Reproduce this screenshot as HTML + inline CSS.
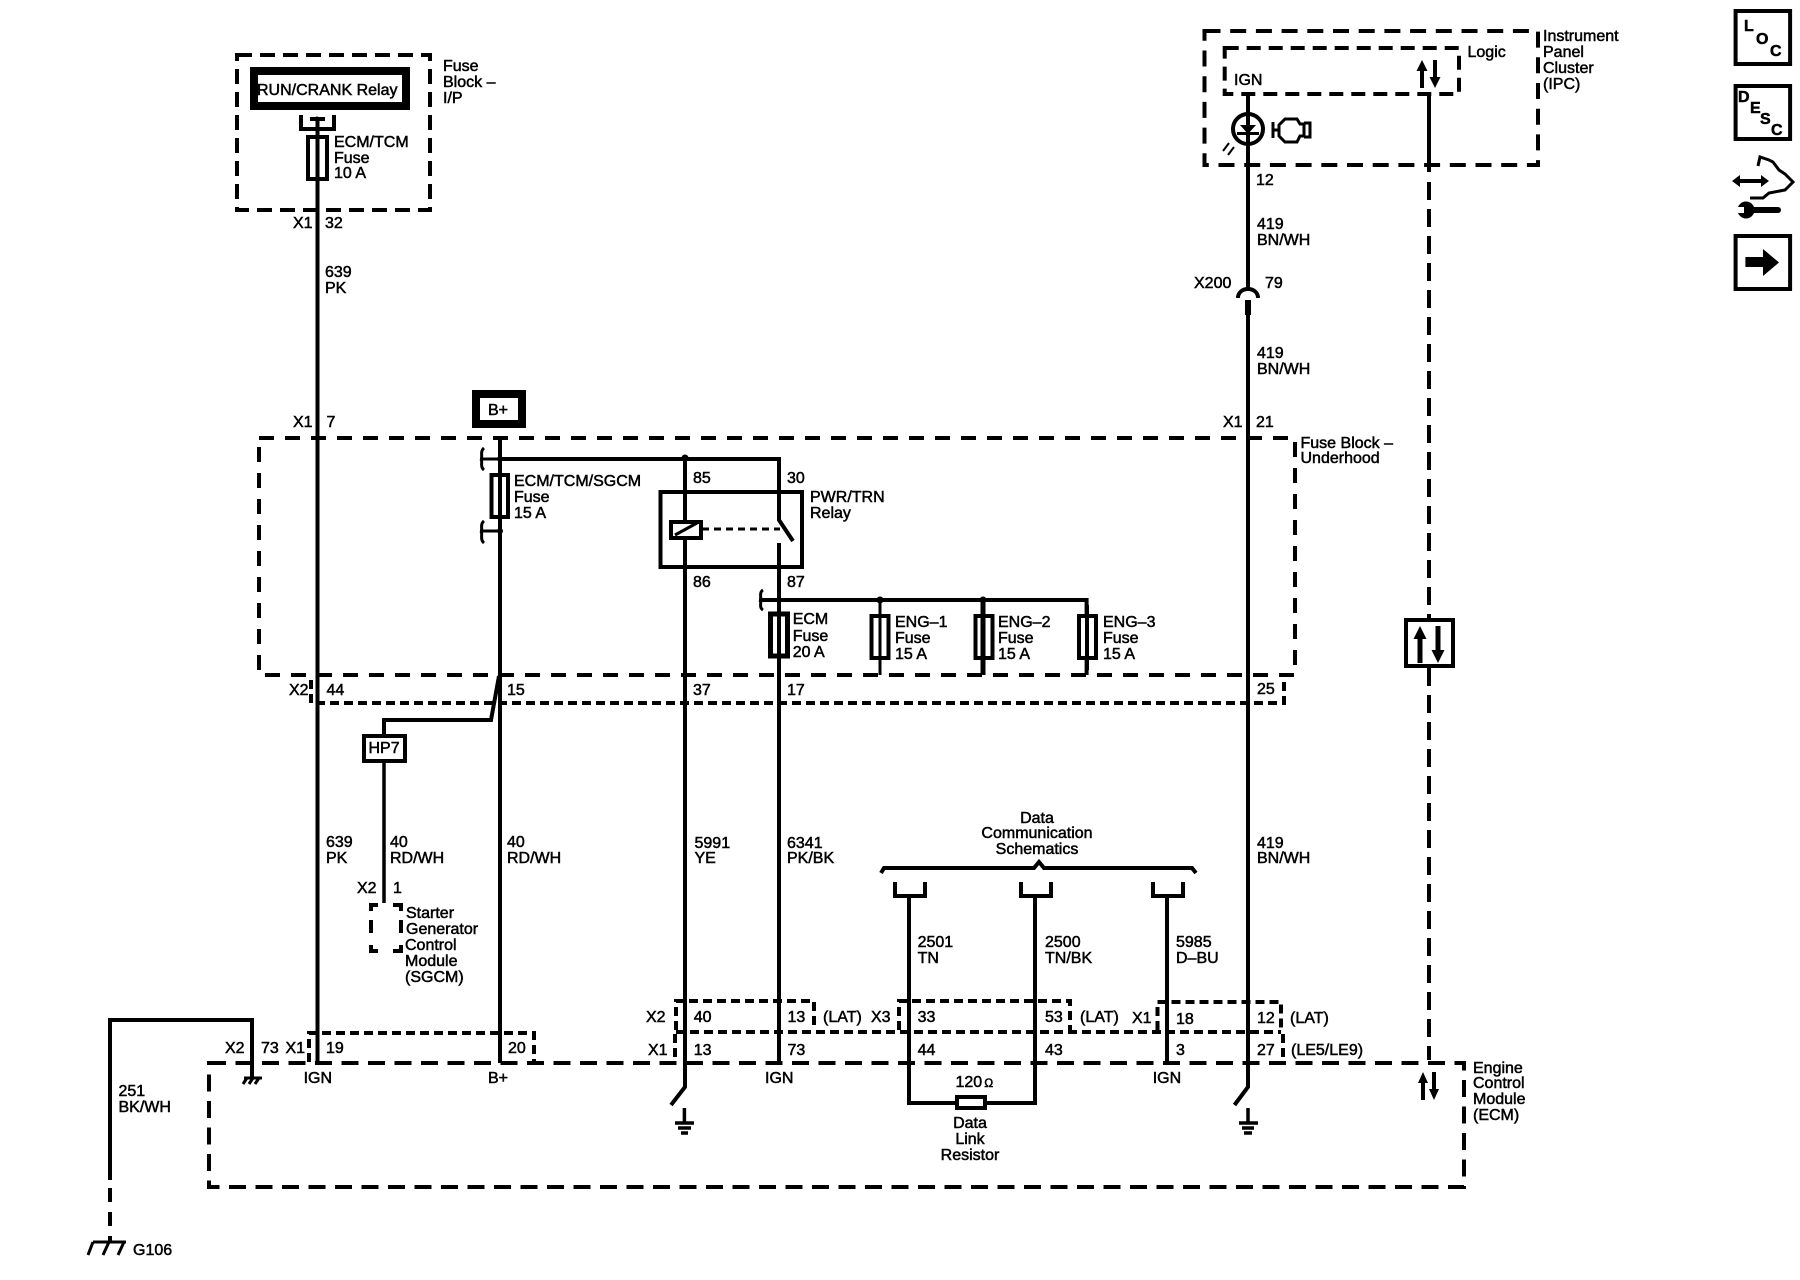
<!DOCTYPE html>
<html><head><meta charset="utf-8"><title>ECM Power and Ground Wiring Schematic</title>
<style>
html,body{margin:0;padding:0;background:#fff;width:1800px;height:1280px;overflow:hidden}
svg{display:block}
text{font-family:"Liberation Sans",sans-serif;font-size:16px;fill:#000;stroke:#000;stroke-width:.5}
.w{stroke:#000;stroke-width:4;fill:none}
.t{stroke:#000;stroke-width:3;fill:none}
.d{stroke:#000;stroke-width:4;fill:none;stroke-dasharray:17 9.5}
.p{stroke:#000;stroke-width:4;fill:none;stroke-dasharray:9 5}
.f{stroke:#000;stroke-width:4;fill:#fff}
.k{fill:#000;stroke:none}
.b{font-weight:bold;font-size:16px}
</style></head><body>
<svg width="1800" height="1280" viewBox="0 0 1800 1280" xmlns="http://www.w3.org/2000/svg">
<rect width="1800" height="1280" fill="#fff"/>

<!-- Fuse Block I/P -->
<rect x="237" y="55" width="193" height="155" class="d" style="stroke-dasharray:15 8"/>
<rect x="254" y="71" width="152" height="35" fill="#fff" stroke="#000" stroke-width="8"/>
<text x="257" y="95">RUN/CRANK Relay</text>
<path class="w" d="M301,115V129H334V115M310,119H325"/>
<circle cx="317" cy="119" r="2.5" class="k"/>
<rect x="308" y="137" width="19" height="42" class="f"/>
<text x="334" y="147">ECM/TCM</text><text x="334" y="163">Fuse</text><text x="334" y="178">10 A</text>
<text x="443" y="71">Fuse</text><text x="443" y="87">Block –</text><text x="443" y="103">I/P</text>
<text x="293" y="228">X1</text><text x="325" y="228">32</text>
<text x="325" y="277">639</text><text x="325" y="293">PK</text>
<path class="w" d="M317.5,117V1063"/>

<!-- IPC -->
<rect x="1204.5" y="31" width="333.5" height="134" class="d" style="stroke-dasharray:16 9.7"/>
<rect x="1224.7" y="48" width="234.3" height="46" class="p" style="stroke-dasharray:14 8"/>
<text x="1234" y="85">IGN</text>
<text x="1467.5" y="57">Logic</text>
<text x="1543" y="41">Instrument</text><text x="1543" y="57">Panel</text><text x="1543" y="73">Cluster</text><text x="1543" y="89">(IPC)</text>
<path class="w" d="M1422,70V88M1435,60V80"/>
<path class="k" d="M1422,60l-5.5,11h11zM1435,88l-5.5,-11h11z"/>
<path class="w" d="M1429,94V172"/>
<path d="M1429,182V1060" class="w" style="stroke-dasharray:18 9"/>
<path class="w" d="M1248,94V288"/>
<circle cx="1248" cy="129" r="15" fill="none" stroke="#000" stroke-width="4"/>
<path class="k" d="M1240,125h16l-8,9zM1237,132h22v3h-22z"/>
<path class="t" style="stroke-width:2" d="M1229,143l-6,8M1234,147l-6,8"/>
<path class="t" d="M1273,122V138M1273,130H1279M1285,119H1297L1300,124H1304V136H1300L1297,142H1285L1279,136V125ZM1304,123H1310V137H1304"/>
<text x="1256" y="185">12</text>
<text x="1257" y="229">419</text><text x="1257" y="245">BN/WH</text>
<text x="1194" y="288">X200</text><text x="1265" y="288">79</text>
<path class="w" d="M1238,298C1238,286 1258,286 1258,298"/>
<path d="M1248,300V315" stroke="#000" stroke-width="6"/>
<path class="w" d="M1248,315V1087L1234.5,1105"/>
<text x="1257" y="358">419</text><text x="1257" y="374">BN/WH</text>
<text x="1223" y="427">X1</text><text x="1256" y="427">21</text>

<!-- Side icons -->
<g fill="none" stroke="#000" stroke-width="4">
<rect x="1735.6" y="11" width="54.5" height="53"/>
<rect x="1735.6" y="86" width="54.5" height="53"/>
<rect x="1735.6" y="236" width="54.5" height="53"/>
</g>
<text class="b" x="1744" y="31">L</text><text class="b" x="1756" y="44">O</text><text class="b" x="1770" y="56">C</text>
<text class="b" x="1738" y="102">D</text><text class="b" x="1750" y="113">E</text><text class="b" x="1760" y="124">S</text><text class="b" x="1771" y="135">C</text>
<path class="k" d="M1745.4,257H1763V249L1779,262.5L1763,276V267H1745.4Z"/>
<path class="w" d="M1738,181H1763"/>
<path class="k" d="M1732,181l8,-6v12zM1769,181l-8,-6v12z"/>
<path class="t" d="M1750,198H1763L1769,193L1785,190L1793,182L1785,174L1779,170L1773,162L1769,160L1760,157L1758,166"/>
<path d="M1750,210H1778" stroke="#000" stroke-width="6" stroke-linecap="round"/>
<circle cx="1746" cy="210" r="8.5" class="k"/>
<rect x="1735" y="207" width="9" height="6" fill="#fff"/>

<!-- Underhood -->
<rect x="259" y="438" width="1036" height="237" class="d" style="stroke-dasharray:15 11"/>
<path class="p" d="M311,680V703H1284V681"/>
<rect x="476" y="394" width="46" height="30" fill="#fff" stroke="#000" stroke-width="8"/>
<text x="488" y="415">B+</text>
<text x="293" y="427">X1</text><text x="326.5" y="427">7</text>
<path class="w" d="M500,438V1063"/>
<path class="w" d="M500,459H779V520L793,541"/>
<circle cx="500" cy="459" r="3" class="k"/><circle cx="685" cy="458" r="3.5" class="k"/>
<circle cx="500" cy="531" r="3" class="k"/><circle cx="779" cy="600" r="3" class="k"/>
<path class="t" d="M484,448C479,452 484,459 480,459H500M480,459C484,460 479,466 484,470"/>
<path class="t" d="M484,521C479,525 484,531 480,531H500M480,531C484,532 479,539 484,543"/>
<path class="t" d="M763,590C758,593 763,600 759,600H779M759,600C763,601 758,607 763,610"/>
<rect x="491.5" y="475" width="16.5" height="42" class="f"/><path class="w" d="M500,470V525"/>
<text x="514" y="486">ECM/TCM/SGCM</text><text x="514" y="502">Fuse</text><text x="514" y="518">15 A</text>
<rect x="660.5" y="492" width="141.5" height="75" fill="none" stroke="#000" stroke-width="4"/>
<path class="w" d="M685,459V1087L671,1105"/>
<rect x="671" y="522" width="30" height="16" class="f"/>
<path class="t" d="M675,535L697,523"/>
<path class="w" style="stroke-dasharray:7 5;stroke-width:3" d="M702,529H780"/>
<path class="w" d="M779,543V1063"/>
<text x="693" y="483">85</text><text x="787" y="483">30</text>
<text x="810" y="502">PWR/TRN</text><text x="810" y="518">Relay</text>
<text x="693" y="587">86</text><text x="787" y="587">87</text>
<path class="w" d="M759,600H1086.6V675"/>
<circle cx="880" cy="600" r="3.5" class="k"/><circle cx="983" cy="600" r="3.5" class="k"/>
<path class="t" d="M880,600V675"/>
<path d="M983,600V675" stroke="#000" stroke-width="5"/>
<rect x="770.5" y="614" width="17" height="42" class="f" style="stroke-width:5"/><path class="w" d="M779,605V665"/>
<rect x="871.5" y="616" width="17" height="42" class="f" style="stroke-width:4"/><path class="t" d="M880,610V665"/>
<rect x="975.5" y="616" width="17" height="42" class="f"/><path d="M983,605V670" stroke="#000" stroke-width="5"/>
<rect x="1079" y="616" width="17" height="42" class="f"/><path class="w" d="M1087,605V670"/>
<text x="792.7" y="624">ECM</text><text x="792.7" y="641">Fuse</text><text x="792.7" y="657">20 A</text>
<text x="895" y="627">ENG–1</text><text x="895" y="643">Fuse</text><text x="895" y="659">15 A</text>
<text x="998" y="627">ENG–2</text><text x="998" y="643">Fuse</text><text x="998" y="659">15 A</text>
<text x="1103" y="627">ENG–3</text><text x="1103" y="643">Fuse</text><text x="1103" y="659">15 A</text>
<text x="1300.5" y="448">Fuse Block –</text><text x="1300.5" y="463">Underhood</text>
<text x="289" y="695">X2</text><text x="326.5" y="695">44</text><text x="507" y="695">15</text><text x="693" y="695">37</text><text x="787" y="695">17</text><text x="1257" y="694">25</text>

<!-- HP7 / SGCM -->
<path class="w" d="M499,676L491,720H384V734"/>
<rect x="364" y="736" width="41" height="25" class="f"/>
<text x="368.5" y="753">HP7</text>
<path class="t" style="stroke-width:3.5" d="M384,762V903"/>
<text x="326" y="847">639</text><text x="326" y="863">PK</text>
<text x="390" y="847">40</text><text x="390" y="863">RD/WH</text>
<text x="507" y="847">40</text><text x="507" y="863">RD/WH</text>
<text x="357" y="893">X2</text><text x="393" y="893">1</text>
<path class="w" d="M371,911V905H378M393,905H401V911M371,920V933M401,920V933M371,945V951H378M393,951H401V945"/>
<text x="406" y="918">Starter</text><text x="406" y="934">Generator</text><text x="405" y="950">Control</text><text x="405" y="966">Module</text><text x="405" y="982">(SGCM)</text>

<!-- wire labels middle -->
<text x="694.5" y="848">5991</text><text x="694.5" y="863">YE</text>
<text x="787" y="848">6341</text><text x="787" y="863">PK/BK</text>
<text x="1257" y="848">419</text><text x="1257" y="863">BN/WH</text>

<!-- Data comm -->
<text x="1037" y="823" text-anchor="middle">Data</text>
<text x="1037" y="838" text-anchor="middle">Communication</text>
<text x="1037" y="854" text-anchor="middle">Schematics</text>
<path class="w" d="M881,873L884,868H1034L1039,862L1044,868H1192L1196,873"/>
<path class="w" d="M895,882V896H925V882M1021,882V896H1051V882M1153,882V896H1183V882"/>
<path class="w" d="M909,896V1103H1035V896M1167,896V1063"/>
<rect x="957" y="1097" width="28" height="11" class="f"/>
<text x="917.6" y="947">2501</text><text x="917.6" y="963">TN</text>
<text x="1045" y="947">2500</text><text x="1045" y="963">TN/BK</text>
<text x="1176" y="947">5985</text><text x="1176" y="963">D–BU</text>
<text x="955.5" y="1087">120<tspan font-size="12" dx="2">Ω</tspan></text>
<text x="970" y="1128" text-anchor="middle">Data</text><text x="970" y="1144" text-anchor="middle">Link</text><text x="970" y="1160" text-anchor="middle">Resistor</text>

<!-- Connector rows -->
<path class="p" d="M676,1030V1001H814V1030"/>
<path class="p" d="M899,1030V1001H1070V1030"/>
<path class="p" d="M1157.5,1030V1002H1281V1030"/>
<path class="p" d="M676,1032H1281"/>
<path class="p" d="M675,1034V1062M1283,1034V1062"/>
<path class="p" d="M309,1062V1033H534V1062"/>
<text x="646" y="1022">X2</text><text x="693.7" y="1022">40</text><text x="787.5" y="1022">13</text><text x="823" y="1022">(LAT)</text>
<text x="871" y="1022">X3</text><text x="917.6" y="1022">33</text><text x="1045" y="1022">53</text><text x="1080" y="1022">(LAT)</text>
<text x="1132" y="1023">X1</text><text x="1176" y="1024">18</text><text x="1257" y="1023">12</text><text x="1290" y="1023">(LAT)</text>
<text x="648" y="1055">X1</text><text x="693.7" y="1055">13</text><text x="787.5" y="1055">73</text><text x="917.6" y="1055">44</text><text x="1045" y="1055">43</text><text x="1176" y="1055">3</text><text x="1257" y="1055">27</text><text x="1291" y="1055">(LE5/LE9)</text>

<!-- ECM -->
<rect x="209" y="1063" width="1255" height="124" class="d"/>
<text x="1473" y="1073">Engine</text><text x="1473" y="1088">Control</text><text x="1473" y="1104">Module</text><text x="1473" y="1120">(ECM)</text>
<path class="w" d="M1423,1082V1100M1434,1072V1090"/>
<path class="k" d="M1423,1072l-5,11h10zM1434,1100l-5,-11h10z"/>
<text x="225" y="1053">X2</text><text x="261" y="1053">73</text><text x="285.5" y="1053">X1</text><text x="326" y="1053">19</text><text x="508" y="1053">20</text>
<text x="303.6" y="1083">IGN</text><text x="488" y="1083">B+</text><text x="765" y="1083">IGN</text><text x="1152.7" y="1083">IGN</text>
<text x="118.5" y="1096">251</text><text x="118.5" y="1112">BK/WH</text>

<!-- Grounds -->
<path class="w" d="M110,1180V1020H252V1078"/>
<path class="w" style="stroke-dasharray:14 10" d="M110,1188V1242"/>
<path class="t" d="M93,1242H126M93,1242L88,1255M109,1242L103,1255M124,1242L118,1255"/>
<text x="133" y="1255">G106</text>
<path class="t" d="M244,1078H262M247,1078L243,1084M253,1078L249,1084M259,1078L255,1084"/>
<g class="w" style="stroke-width:3.5">
<path d="M684.4,1108V1122M675,1123H694M678,1128H691M681,1133H688"/>
<path d="M1248,1108V1122M1239,1123H1258M1242,1128H1254M1244,1133H1252"/>
</g>

<!-- Center arrows box -->
<rect x="1406" y="620" width="47" height="46" class="f"/>
<path class="w" style="stroke-width:5" d="M1420,636V663M1438,626V654"/>
<path class="k" d="M1420,626l-6.5,13h13zM1438,663l-6.5,-13h13z"/>
</svg>
</body></html>
